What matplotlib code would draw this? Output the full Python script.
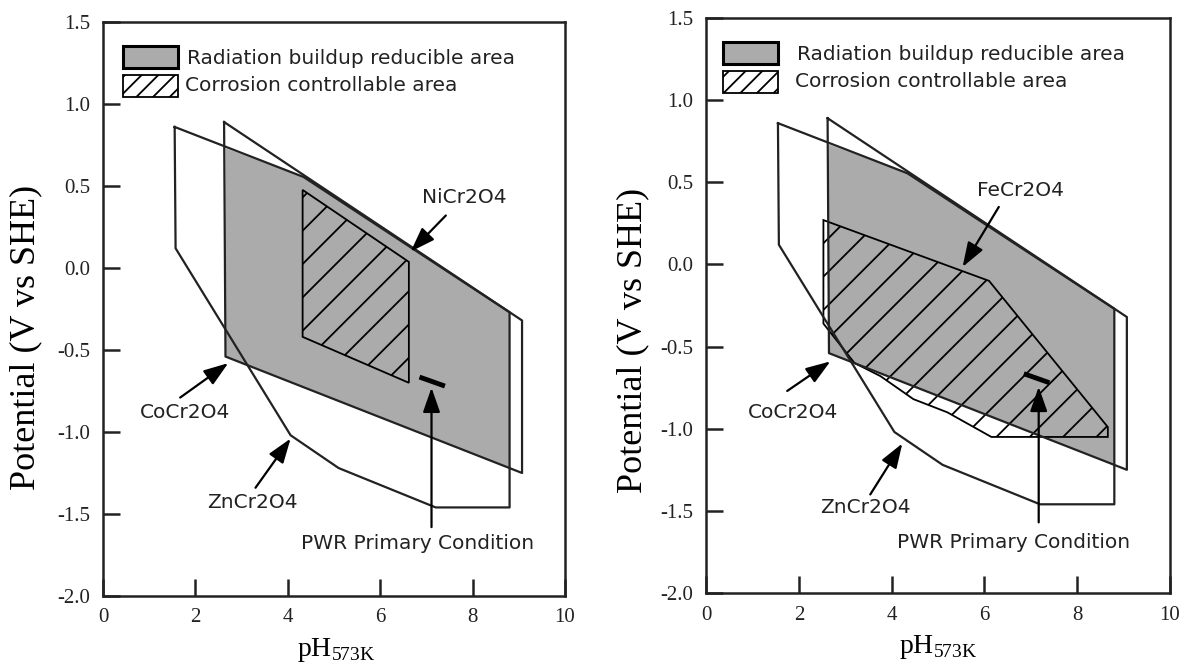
import matplotlib
matplotlib.use("Agg")
import matplotlib.pyplot as plt
import matplotlib.patches as mpatches

plt.rcParams["font.family"] = ["Liberation Serif", "DejaVu Serif"]
plt.rcParams["mathtext.fontset"] = "custom"
plt.rcParams["mathtext.rm"] = "Liberation Serif"
plt.rcParams["axes.unicode_minus"] = False
plt.rcParams["hatch.linewidth"] = 1.3

SANS = ["DejaVu Sans"]
GRAY = "#ababab"

# axis ticks
PH_TICKS = [0, 2, 4, 6, 8, 10]
E_TICKS = [1.5, 1.0, 0.5, 0.0, -0.5, -1.0, -1.5, -2.0]

# CoCr2O4 stability region
CO_PH = [2.62, 9.07, 9.07, 2.65, 2.62]
CO_E = [0.89, -0.32, -1.25, -0.54, 0.89]

# ZnCr2O4 stability region
ZN_PH = [1.55, 4.34, 8.80, 8.80, 7.20, 5.10, 4.06, 1.57, 1.55]
ZN_E = [0.86, 0.555, -0.27, -1.46, -1.46, -1.22, -1.02, 0.12, 0.86]

# radiation buildup reducible area (overlap of the two)
RB_PH = [2.65, 4.34, 8.80, 8.80, 2.65]
RB_E = [0.73, 0.555, -0.27, -1.22, -0.54]

# corrosion controllable area, NiCr2O4
NI_PH = [4.32, 6.62, 6.62, 4.32]
NI_E = [0.476, 0.037, -0.70, -0.42]

# corrosion controllable area, FeCr2O4
FE_PH = [2.53, 6.10, 8.66, 8.66, 6.15, 5.20, 4.47, 3.76, 3.20, 2.53]
FE_E = [0.27, -0.10, -0.99, -1.05, -1.05, -0.90, -0.82, -0.68, -0.60, -0.36]

# PWR primary condition
PWR_PH = [6.85, 7.40]
PWR_E = [-0.665, -0.72]

LEGEND_LABELS = ["Radiation buildup reducible area", "Corrosion controllable area"]


def arrow(ax, text, xy, xytext, textpos):
    ax.annotate("", xy=xy, xytext=xytext,
                arrowprops=dict(arrowstyle="-|>,head_length=1.0,head_width=0.35",
                                mutation_scale=15, color="black", lw=1.6,
                                shrinkA=0, shrinkB=0))
    ax.text(textpos[0], textpos[1], text, family=SANS, fontsize=14.5,
            ha="center", va="center", color="#222")


def draw_panel(ax, ctl_ph, ctl_e, name, name_arrow, name_pos, leg):
    ax.fill(RB_PH, RB_E, facecolor=GRAY, edgecolor="none", zorder=1)
    ax.fill(ctl_ph, ctl_e, facecolor="none", edgecolor="black", hatch="/",
            lw=1.3, zorder=2)
    ax.plot(ZN_PH, ZN_E, color="#222", lw=1.6, zorder=3)
    ax.plot(CO_PH, CO_E, color="#222", lw=1.6, zorder=3)
    ax.plot(PWR_PH, PWR_E, color="black", lw=3.5, solid_capstyle="butt", zorder=4)

    arrow(ax, name, name_arrow[1], name_arrow[0], name_pos)

    ax.set_xlim(0, 10)
    ax.set_ylim(-2.0, 1.5)
    ax.set_xticks(PH_TICKS)
    ax.set_yticks(E_TICKS)
    ax.set_xticklabels([str(t) for t in PH_TICKS])
    ax.set_yticklabels([f"{t:.1f}" for t in E_TICKS])
    ax.tick_params(direction="in", length=12, width=1.8, labelsize=15, pad=9,
                   colors="#222")
    for s in ax.spines.values():
        s.set_linewidth(1.8)
        s.set_color("#222")
    ax.set_xlabel(r"pH$_{\rm 573K}$", fontsize=20)
    ax.set_ylabel("Potential (V vs SHE)", fontsize=26)
    ax.yaxis.label.set_verticalalignment("center")

    # legend boxes
    x0, x1, tx1, tx2 = leg
    ax.add_patch(mpatches.Rectangle((x0, 0.920), x1 - x0, 0.038, transform=ax.transAxes,
                                    facecolor=GRAY, edgecolor="black", lw=2.2, zorder=5))
    ax.add_patch(mpatches.Rectangle((x0, 0.870), x1 - x0, 0.038, transform=ax.transAxes,
                                    facecolor="white", edgecolor="black", lw=1.3,
                                    hatch="//", zorder=5))
    ax.text(tx1, 0.937, LEGEND_LABELS[0], transform=ax.transAxes, family=SANS,
            fontsize=14.5, va="center", color="#222")
    ax.text(tx2, 0.889, LEGEND_LABELS[1], transform=ax.transAxes, family=SANS,
            fontsize=14.5, va="center", color="#222")


fig = plt.figure(figsize=(11.9, 6.62), dpi=100)
ax1 = fig.add_axes([0.0866, 0.0997, 0.3882, 0.8671])
ax2 = fig.add_axes([0.5933, 0.1042, 0.3899, 0.8686])

draw_panel(ax1, NI_PH, NI_E, "NiCr2O4", ((7.42, 0.32), (6.66, 0.10)), (7.82, 0.43),
           (0.043, 0.162, 0.182, 0.177))
arrow(ax1, "CoCr2O4", (2.71, -0.58), (1.67, -0.79), (1.78, -0.88))
arrow(ax1, "ZnCr2O4", (4.06, -1.04), (3.30, -1.34), (3.23, -1.43))
arrow(ax1, "PWR Primary Condition", (7.11, -0.73), (7.11, -1.58), (6.81, -1.68))
ax1.yaxis.set_label_coords(-0.168, 0.45)
ax1.xaxis.set_label_coords(0.504, -0.07)

draw_panel(ax2, FE_PH, FE_E, "FeCr2O4", ((6.31, 0.35), (5.53, -0.015)), (6.78, 0.45),
           (0.037, 0.155, 0.196, 0.192))
arrow(ax2, "CoCr2O4", (2.68, -0.59), (1.75, -0.77), (1.88, -0.90))
arrow(ax2, "ZnCr2O4", (4.23, -1.09), (3.54, -1.40), (3.43, -1.48))
arrow(ax2, "PWR Primary Condition", (7.17, -0.745), (7.17, -1.57), (6.63, -1.69))
ax2.yaxis.set_label_coords(-0.157, 0.44)
ax2.xaxis.set_label_coords(0.50, -0.07)

fig.savefig("out.png", dpi=100, facecolor="white")
